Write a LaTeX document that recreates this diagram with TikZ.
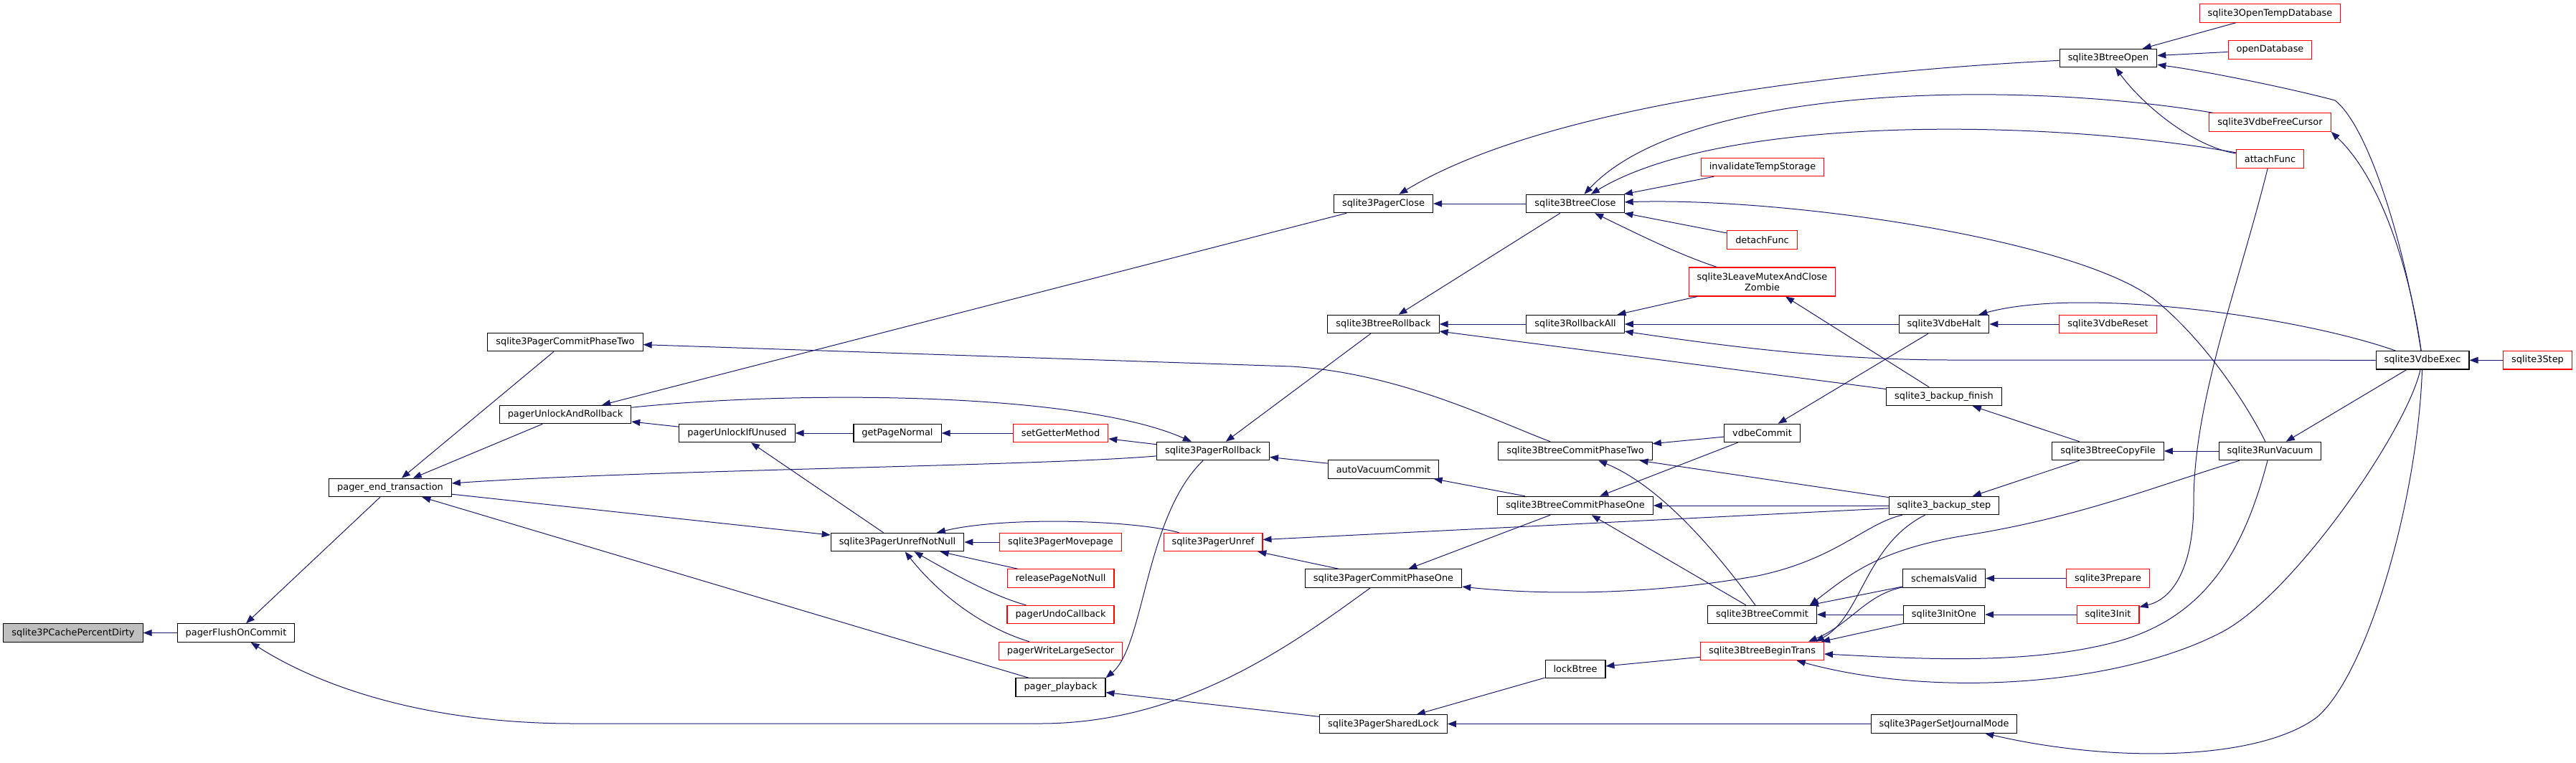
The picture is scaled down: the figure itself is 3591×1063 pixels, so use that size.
\documentclass[tikz,border=0pt]{standalone}
\usepackage{fontspec}
\setmainfont{DejaVu Sans}
\usetikzlibrary{arrows.meta}
\definecolor{edgeblue}{HTML}{191970}
\definecolor{rootgray}{HTML}{BFBFBF}
\tikzset{
  fn/.style   ={draw=black,line width=1.1pt,fill=white,inner xsep=11.5pt,inner ysep=0pt,
                minimum height=25.4pt,font=\fontsize{12.9}{15}\selectfont},
  trunc/.style={fn,draw=red},
  focus/.style={fn,fill=rootgray},
  call/.style ={draw=edgeblue,line width=1pt,-{Triangle[length=12pt,width=9pt]}},
}

\begin{document}
\begin{tikzpicture}[x=1pt,y=-1pt]
  \useasboundingbox (0,0) rectangle (3591,1063);
  \node[focus] (root) at (102,882.5) {sqlite3PCachePercentDirty};
  \node[fn] (flush) at (329,882.5) {pagerFlushOnCommit};
  \node[fn] (endtx) at (544,680) {pager\_end\_transaction};
  \node[fn] (pcp2) at (788,477) {sqlite3PagerCommitPhaseTwo};
  \node[fn] (unlockrb) at (788,578) {pagerUnlockAndRollback};
  \node[fn] (unlockif) at (1027.5,604) {pagerUnlockIfUnused};
  \node[fn] (getpage) at (1251,604) {getPageNormal};
  \node[fn] (unrefnn) at (1251,756) {sqlite3PagerUnrefNotNull};
  \node[trunc] (setget) at (1478.5,604) {setGetterMethod};
  \node[trunc] (movepage) at (1478.5,756) {sqlite3PagerMovepage};
  \node[trunc] (release) at (1478.5,806.5) {releasePageNotNull};
  \node[trunc] (undo) at (1478.5,857) {pagerUndoCallback};
  \node[trunc] (wls) at (1478.5,908) {pagerWriteLargeSector};
  \node[fn] (playback) at (1478.5,958.5) {pager\_playback};
  \node[fn] (prb) at (1691,629) {sqlite3PagerRollback};
  \node[trunc] (unref) at (1691,756) {sqlite3PagerUnref};
  \node[fn] (pclose) at (1928.5,284) {sqlite3PagerClose};
  \node[fn] (brb) at (1928.5,452) {sqlite3BtreeRollback};
  \node[fn] (avc) at (1928.5,654.5) {autoVacuumCommit};
  \node[fn] (pcp1) at (1928.5,806.5) {sqlite3PagerCommitPhaseOne};
  \node[fn] (slock) at (1928.5,1009.5) {sqlite3PagerSharedLock};
  \node[fn] (bclose) at (2196,284) {sqlite3BtreeClose};
  \node[fn] (rball) at (2196,452) {sqlite3RollbackAll};
  \node[fn] (bcp2) at (2196,629) {sqlite3BtreeCommitPhaseTwo};
  \node[fn] (bcp1) at (2196,705) {sqlite3BtreeCommitPhaseOne};
  \node[fn] (lockbt) at (2196,933) {lockBtree};
  \node[trunc] (invtemp) at (2457,233) {invalidateTempStorage};
  \node[trunc] (detach) at (2456.5,334.5) {detachFunc};
  \node[trunc,align=center,minimum height=40pt] (zombie) at (2456.5,393) {sqlite3LeaveMutexAndClose\\Zombie};
  \node[fn] (vcommit) at (2456.5,604) {vdbeCommit};
  \node[fn] (bcommit) at (2456.5,857) {sqlite3BtreeCommit};
  \node[trunc] (begin) at (2456.5,908) {sqlite3BtreeBeginTrans};
  \node[fn] (halt) at (2710,452) {sqlite3VdbeHalt};
  \node[fn] (bfinish) at (2710,553) {sqlite3\_backup\_finish};
  \node[fn] (bstep) at (2710,705) {sqlite3\_backup\_step};
  \node[fn] (schema) at (2710,806.5) {schemaIsValid};
  \node[fn] (initone) at (2710,857) {sqlite3InitOne};
  \node[fn] (jmode) at (2710,1009.5) {sqlite3PagerSetJournalMode};
  \node[fn] (bopen) at (2939,81) {sqlite3BtreeOpen};
  \node[trunc] (vreset) at (2938.5,452) {sqlite3VdbeReset};
  \node[fn] (copyfile) at (2938.5,629) {sqlite3BtreeCopyFile};
  \node[trunc] (prepare) at (2938.5,806.5) {sqlite3Prepare};
  \node[trunc] (init) at (2938.5,857) {sqlite3Init};
  \node[trunc] (tempdb) at (3164.5,18.5) {sqlite3OpenTempDatabase};
  \node[trunc] (opendb) at (3164.5,69.4) {openDatabase};
  \node[trunc] (freecur) at (3164.5,170.5) {sqlite3VdbeFreeCursor};
  \node[trunc] (attach) at (3164.5,221.4) {attachFunc};
  \node[fn] (vacuum) at (3164.5,629) {sqlite3RunVacuum};
  \node[fn] (exec) at (3377,502.3) {sqlite3VdbeExec};
  \node[trunc] (step) at (3537.5,502.3) {sqlite3Step};

  \draw[call] (flush) -- (root);
  \draw[call] (endtx) -- (flush);
  \draw[call] (pcp1) .. controls (1800,900) and (1650,1009) .. (1450,1009) -- (800,1009)
    .. controls (600,1009) and (450,960) .. (flush);
  \draw[call] (pcp2) -- (endtx);
  \draw[call] (unlockrb) -- (endtx);
  \draw[call] (prb) .. controls (1450,650) and (900,655) .. (endtx);
  \draw[call] (playback) -- (endtx);
  \draw[call] (endtx) -- (unrefnn);
  \draw[call] (unlockif) -- (unlockrb);
  \draw[call] (pclose) -- (unlockrb);
  \draw[call] (unlockrb) .. controls (1100,545) and (1500,545) .. (prb);
  \draw[call] (getpage) -- (unlockif);
  \draw[call] (setget) -- (getpage);
  \draw[call] (prb) -- (setget);
  \draw[call] (unrefnn) -- (unlockif);
  \draw[call] (movepage) -- (unrefnn);
  \draw[call] (release) -- (unrefnn);
  \draw[call] (undo) .. controls (1380,830) and (1320,795) .. (unrefnn);
  \draw[call] (wls) .. controls (1370,875) and (1310,830) .. (unrefnn);
  \draw[call] (unref) .. controls (1580,725) and (1400,720) .. (unrefnn);
  \draw[call] (prb) .. controls (1596,720) and (1596,900) .. (playback.north east);
  \draw[call] (slock) -- (playback);
  \draw[call] (bstep) -- (unref);
  \draw[call] (pcp1) -- (unref);
  \draw[call] (brb) -- (prb);
  \draw[call] (avc) -- (prb);
  \draw[call] (bclose) -- (pclose);
  \draw[call] (bopen) .. controls (2550,100) and (2150,150) .. (pclose);
  \draw[call] (bclose) -- (brb);
  \draw[call] (rball) -- (brb);
  \draw[call] (bfinish) -- (brb);
  \draw[call] (bcp1) -- (avc);
  \draw[call] (bcp2) .. controls (2080,585) and (1950,520) .. (1800,511) -- (pcp2);
  \draw[call] (halt) -- (rball);
  \draw[call] (exec) -- (2720,502) .. controls (2550,502) and (2400,482) .. (rball);
  \draw[call] (zombie) -- (rball);
  \draw[call] (vcommit) -- (bcp2);
  \draw[call] (bstep) -- (bcp2);
  \draw[call] (bcommit) .. controls (2400,780) and (2320,680) .. (bcp2);
  \draw[call] (vcommit) -- (bcp1);
  \draw[call] (bstep) -- (bcp1);
  \draw[call] (bcommit) -- (bcp1);
  \draw[call] (bcp1) -- (pcp1);
  \draw[call] (bstep) .. controls (2600,730) and (2560,780) .. (2450,803)
    .. controls (2300,830) and (2150,830) .. (pcp1);
  \draw[call] (lockbt) -- (slock);
  \draw[call] (jmode) -- (slock);
  \draw[call] (begin) -- (lockbt);
  \draw[call] (freecur) .. controls (2800,110) and (2350,120) .. (bclose);
  \draw[call] (attach) .. controls (2850,165) and (2400,160) .. (bclose);
  \draw[call] (invtemp) -- (bclose);
  \draw[call] (vacuum) .. controls (3130,560) and (3070,470) .. (3000,415)
    .. controls (2880,330) and (2480,275) .. (bclose);
  \draw[call] (detach) -- (bclose);
  \draw[call] (zombie) .. controls (2340,355) and (2280,325) .. (bclose);
  \draw[call] (bfinish) -- (zombie);
  \draw[call] (halt) -- (vcommit);
  \draw[call] (exec) .. controls (3200,440) and (2900,400) .. (halt);
  \draw[call] (vreset) -- (halt);
  \draw[call] (copyfile) -- (bfinish);
  \draw[call] (copyfile) -- (bstep);
  \draw[call] (vacuum) -- (copyfile);
  \draw[call] (bstep) .. controls (2600,760) and (2595,860) .. ([xshift=-12pt]begin.north east);
  \draw[call] (schema) .. controls (2600,830) and (2580,870) .. ([xshift=-22pt]begin.north east);
  \draw[call] (initone) -- ([xshift=-4pt]begin.north east);
  \draw[call] (vacuum) .. controls (3130,760) and (3080,860) .. (2950,895)
    .. controls (2820,930) and (2650,917) .. (begin);
  \draw[call] (exec) .. controls (3355,600) and (3200,825) .. (3100,880)
    .. controls (2960,955) and (2700,975) .. (begin);
  \draw[call] (schema) -- (bcommit);
  \draw[call] (initone) -- (bcommit);
  \draw[call] (vacuum) .. controls (3000,680) and (2900,720) .. (2750,745)
    .. controls (2620,765) and (2580,800) .. ([xshift=-10pt]bcommit.north east);
  \draw[call] (prepare) -- (schema);
  \draw[call] (init) -- (initone);
  \draw[call] (attach) .. controls (3120,400) and (3058,560) .. (3058,700)
    .. controls (3058,790) and (3030,835) .. (init);
  \draw[call] (attach) .. controls (3060,205) and (2990,150) .. (bopen);
  \draw[call] (tempdb) -- (bopen);
  \draw[call] (opendb) -- (bopen);
  \draw[call] (exec) .. controls (3350,330) and (3300,175) .. (3255,140)
    .. controls (3200,125) and (3080,100) .. (bopen);
  \draw[call] (exec) .. controls (3360,380) and (3320,250) .. (freecur.south east);
  \draw[call] (exec) -- (vacuum);
  \draw[call] (exec) .. controls (3370,700) and (3300,940) .. (3230,1000)
    .. controls (3150,1060) and (2950,1065) .. (jmode);
  \draw[call] (step) -- (exec);
\end{tikzpicture}
\end{document}
